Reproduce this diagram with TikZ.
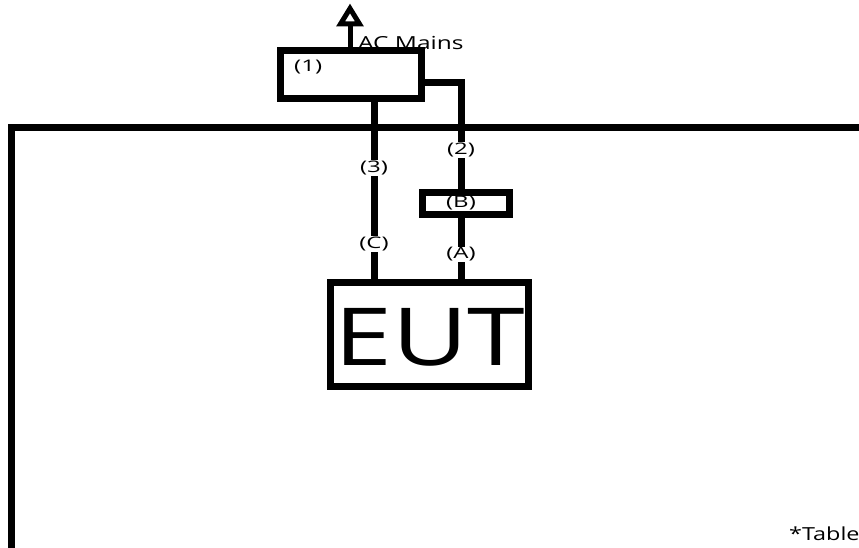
\documentclass[tikz,border=0pt]{standalone}
\usepackage{fontspec}
\setmainfont{Open Sans}
\usetikzlibrary{arrows.meta}
\newcommand{\wx}[1]{\scalebox{1.3}[1]{#1}}
\newcommand{\wa}[1]{\scalebox{1.36}[1]{#1}}
\newcommand{\wl}[1]{\scalebox{1.5}[1]{#1}}
\begin{document}
\begin{tikzpicture}[x=1pt,y=-1pt,
  thickline/.style={line width=7pt},
  boxstyle/.style={draw, line width=7pt, inner sep=0pt, fill=white},
  lbl/.style={fill=white, inner sep=0.5pt, font=\fontsize{16}{16}\selectfont},
]
\useasboundingbox (0,0) rectangle (859,548);
% outer frame
\draw[thickline] (11,560) -- (11,127.5) -- (880,127.5);
% box (1)
\node[boxstyle, minimum width=141pt, minimum height=48pt] (b1) at (351,74.5) {};
\node[anchor=west, font=\fontsize{16}{16}\selectfont, inner sep=0pt] (t1) at (294,67) {\wl{(1)}};
% AC mains arrow
\coordinate (acTop) at (350,24);
\draw[line width=5pt] (b1.north -| acTop) -- (acTop);
\draw[line width=5pt, line join=miter, fill=white] (340.5,24) -- (350,8.5) -- (359.5,24) -- cycle;
\node[anchor=base west, font=\fontsize{18}{18}\selectfont, inner sep=0pt] (ac) at (358,50) {\wa{AC Mains}};
% box (B)
\node[boxstyle, minimum width=87pt, minimum height=22pt] (bB) at (466,203.5) {};
\node[lbl, fill=none] (tB) at (461,203.5) {\wl{(B)}};
% EUT
\node[boxstyle, minimum width=198pt, minimum height=104pt] (eut) at (429.5,334) {};
\node[font=\fontsize{80}{80}\selectfont, inner sep=0pt] (teut) at (430,337) {\wx{EUT}};
% connectors
\coordinate (c3top) at (374,98);
\coordinate (c2corner) at (461,82.5);
\draw[thickline] (c3top) -- (c3top |- eut.north);
\draw[thickline] (b1.east |- c2corner) -- (c2corner) -- (c2corner |- bB.north);
\draw[thickline] (bB.south -| c2corner) -- (c2corner |- eut.north);
\node[lbl] (l3) at (374,168) {\wl{(3)}};
\node[lbl] (lC) at (374,244) {\wl{(C)}};
\node[lbl] (l2) at (461,150) {\wl{(2)}};
\node[lbl] (lA) at (461,254) {\wl{(A)}};
\node[anchor=base west, font=\fontsize{18}{18}\selectfont, inner sep=0pt] (tab) at (789,540) {\wx{*Table}};
\end{tikzpicture}
\end{document}
